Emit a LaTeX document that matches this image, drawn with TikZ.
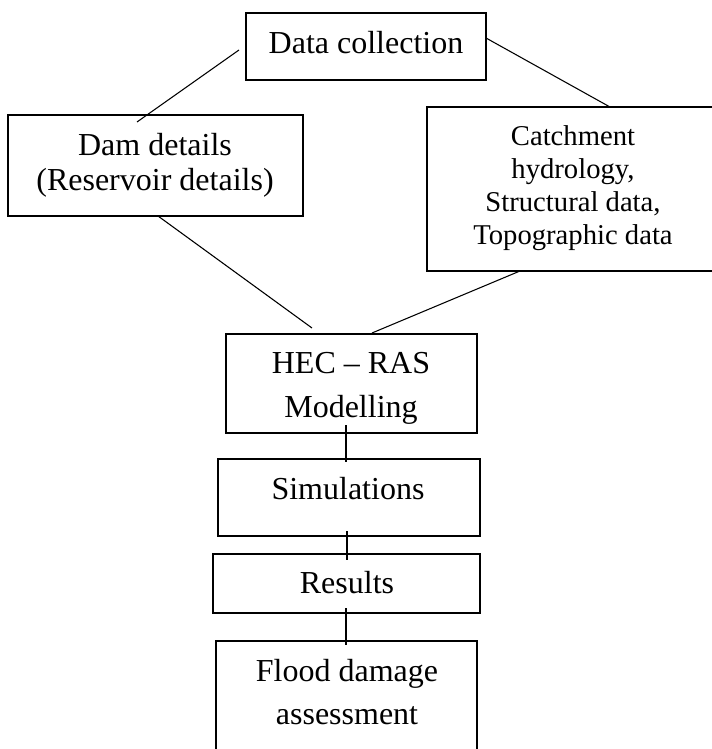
\documentclass[tikz,border=0pt]{standalone}
\usepackage{fontspec}
\setmainfont{Liberation Serif}
\begin{document}
\begin{tikzpicture}[x=0.75pt,y=-0.75pt,
  box/.style={draw=black,line width=1.5pt,rectangle,inner sep=0pt,outer sep=0pt},
  txt/.style={anchor=base,inner sep=0pt,outer sep=0pt,font=\fontsize{24}{28}\selectfont},
  smalltxt/.style={anchor=base,inner sep=0pt,outer sep=0pt,font=\fontsize{21.5}{25}\selectfont},
  link/.style={draw=black,line width=0.8pt},
  vlink/.style={draw=black,line width=1.1pt}]
\useasboundingbox (0,0) rectangle (712,749);
\clip (0,0) rectangle (712,749);
% boxes
\node[box,minimum width=180pt,minimum height=50.25pt] (dc) at (366,46.5) {};
\node[box,minimum width=221.25pt,minimum height=75.75pt] (dam) at (155.5,165.5) {};
\node[box,minimum width=217.5pt,minimum height=123pt] (cat) at (572,189) {};
\node[box,minimum width=188.25pt,minimum height=74.25pt] (hec) at (351.5,383.5) {};
\node[box,minimum width=196.5pt,minimum height=57.75pt] (sim) at (349,497.5) {};
\node[box,minimum width=200.25pt,minimum height=44.25pt] (res) at (346.5,583.5) {};
\node[box,minimum width=195.75pt,minimum height=96.75pt] (fld) at (346.5,705.5) {};
% texts
\node[txt] (tdc) at (366,54) {Data collection};
\node[txt] (tdam1) at (155,155.5) {Dam details};
\node[txt] (tdam2) at (155,190) {(Reservoir details)};
\node[smalltxt] (tcat1) at (573,145) {Catchment};
\node[smalltxt] (tcat2) at (573,178) {hydrology,};
\node[smalltxt] (tcat3) at (573,211) {Structural data,};
\node[smalltxt] (tcat4) at (573,244) {Topographic data};
\node[txt] (thec1) at (351,373) {HEC -- RAS};
\node[txt] (thec2) at (351,417) {Modelling};
\node[txt] (tsim) at (348,499) {Simulations};
\node[txt] (tres) at (347,593) {Results};
\node[txt] (tfld1) at (347,681) {Flood damage};
\node[txt] (tfld2) at (347,724) {assessment};
% connector ends
\coordinate (dcL) at (239,50);
\coordinate (damT) at (137,122);
\coordinate (dcR) at (486,38);
\coordinate (catT) at (610,107);
\coordinate (damB) at (158,216);
\coordinate (hecTL) at (312,328);
\coordinate (catB) at (520,271);
\coordinate (hecTR) at (372,333);
\coordinate (hecB) at (346,425);
\coordinate (simT) at (346,462);
\coordinate (simB) at (347,531);
\coordinate (resT) at (347,560);
\coordinate (resB) at (346,608);
\coordinate (fldT) at (346,645);
% connectors
\draw[link] (dcL) -- (damT);
\draw[link] (dcR) -- (catT);
\draw[link] (damB) -- (hecTL);
\draw[link] (catB) -- (hecTR);
\draw[vlink] (hecB) -- (simT);
\draw[vlink] (simB) -- (resT);
\draw[vlink] (resB) -- (fldT);
\end{tikzpicture}
\end{document}
